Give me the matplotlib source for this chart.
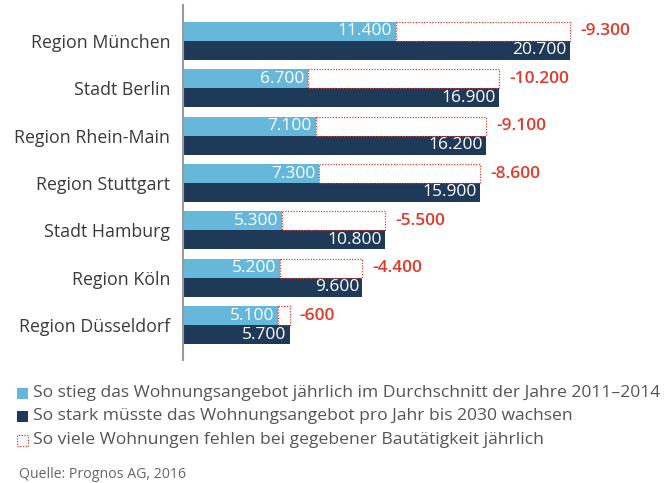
import matplotlib
matplotlib.use("Agg")
import matplotlib.pyplot as plt
from matplotlib.patches import Rectangle
import numpy as np

plt.rcParams['font.family'] = ['Open Sans', 'DejaVu Sans']

regions = ["Region München", "Stadt Berlin", "Region Rhein-Main", "Region Stuttgart",
           "Stadt Hamburg", "Region Köln", "Region Düsseldorf"]
supply_2011_2014 = [11400, 6700, 7100, 7300, 5300, 5200, 5100]
needed_2030 = [20700, 16900, 16200, 15900, 10800, 9600, 5700]
deficit = [-9300, -10200, -9100, -8600, -5500, -4400, -600]

legend_labels = [
    "So stieg das Wohnungsangebot jährlich im Durchschnitt der Jahre 2011–2014",
    "So stark müsste das Wohnungsangebot pro Jahr bis 2030 wachsen",
    "So viele Wohnungen fehlen bei gegebener Bautätigkeit jährlich",
]
source = "Quelle: Prognos AG, 2016"

LIGHT = "#66b8da"
DARK = "#1f3a58"
RED = "#e03a2a"
TEXT = "#3a3a3a"


def fmt(v):
    return f"{v:,}".replace(",", ".")


fig = plt.figure(figsize=(6.71, 4.83), dpi=100)
ax = fig.add_axes([183 / 671, 1 - 360 / 483, 1 - 183 / 671, 355 / 483])

y = np.arange(len(regions))
h = 0.40

ax.barh(y - h / 2, supply_2011_2014, height=h, color=LIGHT)
ax.barh(y + h / 2, needed_2030, height=h, color=DARK)

for i in range(len(regions)):
    s, n, d = supply_2011_2014[i], needed_2030[i], deficit[i]
    # dotted deficit box
    ax.add_patch(Rectangle((s, y[i] - h), n - s, h, fill=False,
                           edgecolor=RED, linestyle=(0, (1, 1.2)), linewidth=0.9))
    ax.text(s - 200, y[i] - h / 2, fmt(s), color="white", ha="right", va="center",
            fontsize=12.5)
    ax.text(n - 180, y[i] + h / 2, fmt(n), color="white", ha="right", va="center",
            fontsize=12.5)
    ax.text(n + 550, y[i] - h / 2, fmt(d), color=RED, ha="left", va="center",
            fontsize=12.5, fontweight="semibold")

ax.set_xlim(0, (671 - 183) / ((570 - 183) / 20700))
ax.set_ylim(6 + (360 - 325) / 47.4, -(41 - 5) / 47.4)
ax.set_yticks(y)
ax.set_yticklabels(regions, fontsize=12.8, color=TEXT)
ax.tick_params(axis="y", length=0, pad=9)
ax.set_xticks([])
for side in ["top", "right", "bottom"]:
    ax.spines[side].set_visible(False)
ax.spines["left"].set_color("#999999")
ax.spines["left"].set_linewidth(1.5)

# legend
leg_y = [393, 416, 440]
for k, (lab, yy) in enumerate(zip(legend_labels, leg_y)):
    fy = 1 - yy / 483
    bx, bw, bh = 17 / 671, 11 / 671, 11 / 483
    if k == 0:
        fig.patches.append(Rectangle((bx, fy - bh / 2), bw, bh, transform=fig.transFigure,
                                     facecolor=LIGHT, edgecolor="none"))
    elif k == 1:
        fig.patches.append(Rectangle((bx, fy - bh / 2), bw, bh, transform=fig.transFigure,
                                     facecolor=DARK, edgecolor="none"))
    else:
        fig.patches.append(Rectangle((bx, fy - bh / 2), bw, bh, transform=fig.transFigure,
                                     fill=False, edgecolor=RED, linestyle=(0, (1, 1.2)),
                                     linewidth=0.9))
    fig.text(33 / 671, fy, lab, fontsize=12.6, color="#555555", va="center", ha="left")

fig.text(19 / 671, 1 - 474 / 483, source, fontsize=10.2, color="#666666", va="center", ha="left")

fig.savefig("out.png", dpi=100)
